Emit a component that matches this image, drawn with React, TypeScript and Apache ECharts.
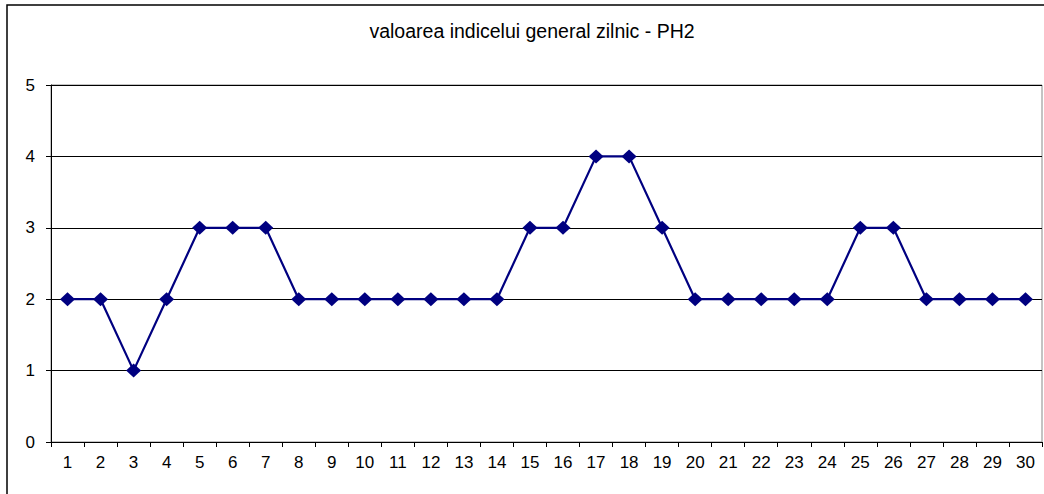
import React, { useEffect, useRef } from "react";
import * as echarts from "echarts";

const titleText = "valoarea indicelui general zilnic - PH2";
const days = ["1","2","3","4","5","6","7","8","9","10","11","12","13","14","15","16","17","18","19","20","21","22","23","24","25","26","27","28","29","30"];
const values = [2,2,1,2,3,3,3,2,2,2,2,2,2,2,3,3,4,4,3,2,2,2,2,2,3,3,2,2,2,2];

export default function App() {
  const ref = useRef<HTMLDivElement>(null);
  useEffect(() => {
    document.body.style.margin = "0";
    const chart = echarts.init(ref.current!, null, { renderer: "svg" });
    const font = "'Liberation Sans', Arial, sans-serif";
    chart.setOption({
      animation: false,
      backgroundColor: "#ffffff",
      title: {
        text: titleText,
        left: 532,
        top: 21,
        padding: 0,
        textAlign: "center",
        textStyle: { fontFamily: font, fontSize: 19.5, fontWeight: "normal", color: "#000" },
      },
      graphic: [
        {
          type: "rect",
          shape: { x: 7, y: 5, width: 1200, height: 600 },
          style: { fill: "none", stroke: "#000", lineWidth: 1.5 },
          silent: true,
        },
      ],
      grid: {
        left: 51,
        right: 2,
        top: 85,
        bottom: 52,
        show: true,
        borderColor: "#888",
        borderWidth: 1,
        backgroundColor: "transparent",
      },
      xAxis: {
        type: "category",
        data: days,
        boundaryGap: true,
        axisLine: { show: true, lineStyle: { color: "#000", width: 1 } },
        axisTick: { show: true, alignWithLabel: false, length: 5, inside: false, lineStyle: { color: "#000" } },
        axisLabel: { margin: 12, fontFamily: font, fontSize: 17, color: "#000", interval: 0 },
        splitLine: { show: false },
      },
      yAxis: {
        type: "value",
        min: 0,
        max: 5,
        interval: 1,
        axisLine: { show: true, lineStyle: { color: "#000", width: 1 } },
        axisTick: { show: true, length: 5, lineStyle: { color: "#000" } },
        axisLabel: { margin: 16, fontFamily: font, fontSize: 17, color: "#000" },
        splitLine: { show: true, lineStyle: { color: "#000", width: 1 } },
      },
      series: [
        {
          type: "line",
          data: values,
          symbol: "diamond",
          symbolSize: [15, 14],
          lineStyle: { color: "#000080", width: 2.2 },
          itemStyle: { color: "#000080" },
        },
      ],
    });
    return () => chart.dispose();
  }, []);
  return <div ref={ref} style={{ position: "fixed", left: 0, top: 0, width: 1044, height: 494 }} />;
}
